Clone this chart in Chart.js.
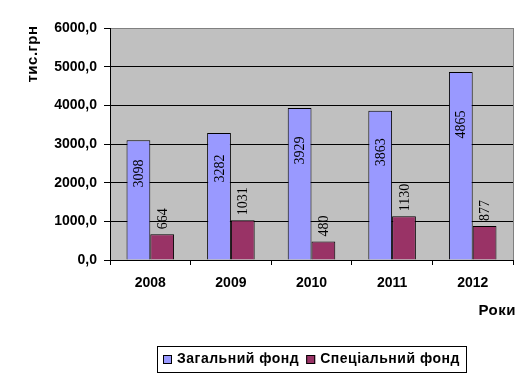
<!DOCTYPE html>
<html>
<head>
<meta charset="utf-8">
<script src="https://cdn.jsdelivr.net/npm/chart.js@4"></script>
<style>
  body { margin: 0; background: #fff; }
  canvas { display: block; }
</style>
</head>
<body>
<canvas id="chart" width="528" height="379"></canvas>
<script>
// Дані діаграми
const years = ['2008', '2009', '2010', '2011', '2012'];
const generalFund = [3098, 3282, 3929, 3863, 4865];
const specialFund = [664, 1031, 480, 1130, 877];
const seriesNames = ['Загальний фонд', 'Спеціальний фонд'];
const yTicks = [0, 1000, 2000, 3000, 4000, 5000, 6000];

const SANS = '"Liberation Sans", Arial, sans-serif';
const SERIF = '"Liberation Serif", "Times New Roman", serif';

// Сірий фон області побудови та рамка
const plotBackground = {
  id: 'plotBackground',
  beforeDraw(chart) {
    const { ctx, chartArea: a } = chart;
    ctx.save();
    ctx.fillStyle = '#c0c0c0';
    ctx.fillRect(a.left, a.top, a.right - a.left, a.bottom - a.top);
    ctx.restore();
  },
  afterDraw(chart) {
    const { ctx, chartArea: a } = chart;
    ctx.save();
    ctx.strokeStyle = '#808080';
    ctx.lineWidth = 1;
    ctx.beginPath();
    ctx.moveTo(a.right + 0.5, a.top);
    ctx.lineTo(a.right + 0.5, a.bottom);
    ctx.stroke();
    ctx.restore();
  }
};

// Підписи значень над стовпцями (повернуті)
const barLabels = {
  id: 'barLabels',
  afterDatasetsDraw(chart) {
    const ctx = chart.ctx;
    ctx.save();
    ctx.font = '14px ' + SERIF;
    ctx.fillStyle = '#000';
    ctx.textBaseline = 'middle';
    chart.data.datasets.forEach((ds, i) => {
      chart.getDatasetMeta(i).data.forEach((bar, j) => {
        ctx.save();
        if (i === 0) {
          ctx.translate(bar.x, bar.y + 0.28 * (bar.base - bar.y));
          ctx.textAlign = 'center';
        } else {
          ctx.translate(bar.x, bar.y - 5);
          ctx.textAlign = 'left';
        }
        ctx.rotate(-Math.PI / 2);
        ctx.fillText(String(ds.data[j]), 0, 1);
        ctx.restore();
      });
    });
    ctx.restore();
  }
};

// Назви осей та легенда в рамці
const axisTitlesAndLegend = {
  id: 'axisTitlesAndLegend',
  afterDraw(chart) {
    const { ctx, chartArea: a } = chart;
    ctx.save();
    ctx.fillStyle = '#000';

    // тис.грн
    ctx.save();
    ctx.font = 'bold 15px ' + SANS;
    ctx.letterSpacing = '0.5px';
    ctx.translate(33, 54);
    ctx.rotate(-Math.PI / 2);
    ctx.textAlign = 'center';
    ctx.textBaseline = 'middle';
    ctx.fillText('тис.грн', 0, 0);
    ctx.restore();

    // Роки
    ctx.save();
    ctx.font = 'bold 15px ' + SANS;
    ctx.letterSpacing = '0.5px';
    ctx.textAlign = 'right';
    ctx.textBaseline = 'middle';
    ctx.fillText('Роки', a.right + 3, 311);
    ctx.restore();

    // легенда
    ctx.font = 'bold 14px ' + SANS;
    ctx.letterSpacing = '0.5px';
    const sq = 9, gap = 5, itemGap = 7, pad = 6;
    const widths = seriesNames.map(n => ctx.measureText(n).width);
    let total = pad * 2;
    widths.forEach((w, i) => { total += sq + gap + w + (i ? itemGap : 0); });
    const cx = (a.left + a.right) / 2;
    const top = 346, h = 26;
    let x = Math.round(cx - total / 2);
    ctx.strokeStyle = '#000';
    ctx.lineWidth = 1;
    ctx.strokeRect(x + 0.5, top + 0.5, Math.round(total), h);
    x += pad;
    const cy = top + h / 2 + 0.5;
    chart.data.datasets.forEach((ds, i) => {
      if (i) x += itemGap;
      ctx.fillStyle = ds.backgroundColor;
      ctx.fillRect(x, Math.round(cy - sq / 2), sq, sq);
      ctx.strokeRect(x + 0.5, Math.round(cy - sq / 2) + 0.5, sq - 1, sq - 1);
      x += sq + gap;
      ctx.fillStyle = '#000';
      ctx.textAlign = 'left';
      ctx.textBaseline = 'middle';
      ctx.fillText(seriesNames[i], x, cy);
      x += widths[i];
    });
    ctx.restore();
  }
};

new Chart(document.getElementById('chart'), {
  type: 'bar',
  data: {
    labels: years,
    datasets: [{
      label: seriesNames[0],
      data: generalFund,
      backgroundColor: '#9999ff',
      borderColor: '#000',
      borderWidth: 1,
      categoryPercentage: 0.59,
      barPercentage: 1
    }, {
      label: seriesNames[1],
      data: specialFund,
      backgroundColor: '#993366',
      borderColor: '#000',
      borderWidth: 1,
      categoryPercentage: 0.59,
      barPercentage: 1
    }]
  },
  options: {
    responsive: false,
    animation: false,
    layout: { padding: { left: 0, top: 28, right: 15, bottom: 79 } },
    plugins: {
      legend: { display: false },
      tooltip: { enabled: false }
    },
    scales: {
      x: {
        offset: true,
        afterFit(scale) { scale.height = 40; },
        grid: {
          offset: true,
          drawOnChartArea: false,
          drawTicks: true,
          tickLength: 5,
          tickColor: '#000'
        },
        border: { color: '#000', width: 1 },
        ticks: {
          color: '#000',
          padding: 10,
          font: { family: SANS, size: 14, weight: 'bold' }
        }
      },
      y: {
        min: 0,
        max: 6000,
        afterFit(scale) { scale.width = 110; },
        afterBuildTicks(scale) { scale.ticks = yTicks.map(v => ({ value: v })); },
        grid: {
          color: ctx => (ctx.tick && ctx.tick.value === 6000) ? '#808080' : '#000',
          tickColor: '#000',
          tickLength: 6,
          lineWidth: 1
        },
        border: { color: '#000', width: 1 },
        ticks: {
          color: '#000',
          padding: 7,
          font: { family: SANS, size: 14, weight: 'bold' },
          callback: v => v.toFixed(1).replace('.', ',')
        }
      }
    }
  },
  plugins: [plotBackground, barLabels, axisTitlesAndLegend]
});
</script>
</body>
</html>
